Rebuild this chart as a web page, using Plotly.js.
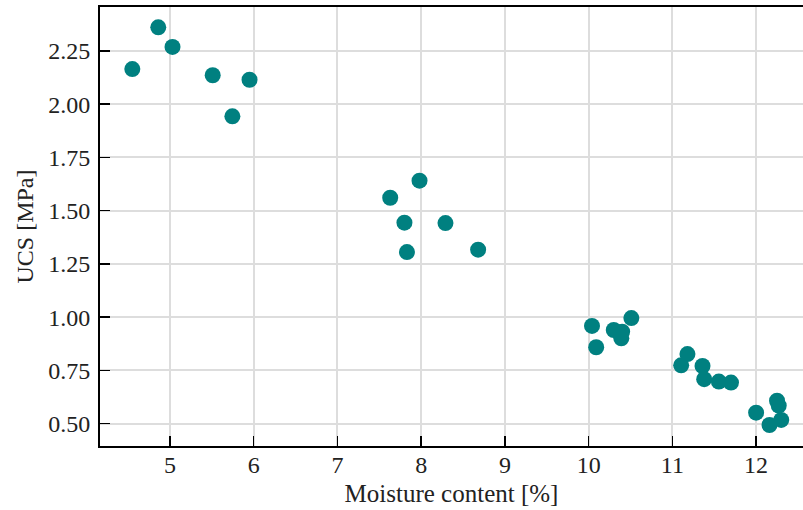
<!DOCTYPE html>
<html>
<head>
<meta charset="utf-8">
<script src="https://cdn.plot.ly/plotly-3.0.1.min.js"></script>
<style>html,body{margin:0;padding:0;background:#fff;}#chart{width:803px;height:510px;}</style>
</head>
<body>
<div id="chart"></div>
<script>
const moisture = [4.55, 4.86, 5.03, 5.51, 5.745, 5.95,
  7.98, 7.63, 7.80, 8.29, 7.83, 8.68,
  10.04, 10.09, 10.30, 10.40, 10.39, 10.51,
  11.18, 11.105, 11.36, 11.38, 11.555, 11.70,
  12.00, 12.25, 12.27, 12.30, 12.16];
const ucs = [2.165, 2.361, 2.269, 2.136, 1.943, 2.115,
  1.641, 1.561, 1.444, 1.442, 1.306, 1.317,
  0.959, 0.859, 0.940, 0.932, 0.901, 0.996,
  0.827, 0.774, 0.771, 0.709, 0.698, 0.693,
  0.552, 0.608, 0.585, 0.518, 0.494];
const xTicks = [5, 6, 7, 8, 9, 10, 11, 12];
const yTicks = [0.5, 0.75, 1.0, 1.25, 1.5, 1.75, 2.0, 2.25];

const fontFam = '"Liberation Serif", "Times New Roman", serif';
const trace = {
  x: moisture, y: ucs, type: 'scatter', mode: 'markers',
  marker: {color: '#008080', size: 16, line: {width: 0}},
  hoverinfo: 'x+y'
};
const axisCommon = {
  showline: true, linecolor: '#000', linewidth: 2,
  ticks: 'inside', ticklen: 10, tickwidth: 1.5, tickcolor: '#000',
  showgrid: true, gridcolor: '#dddddd', gridwidth: 2,
  zeroline: false,
  tickfont: {family: fontFam, size: 24, color: '#222'}
};
const layout = {
  width: 803, height: 510,
  margin: {l: 100, r: 0, t: 7, b: 64},
  paper_bgcolor: '#fff', plot_bgcolor: '#fff',
  showlegend: false,
  xaxis: Object.assign({}, axisCommon, {
    range: [4.164, 12.56], tickvals: xTicks,
    ticktext: xTicks.map(String),
    mirror: true, ticklabelstandoff: -4,
    title: {text: 'Moisture content [%]', font: {family: fontFam, size: 25, color: '#222'}, standoff: 8}
  }),
  yaxis: Object.assign({}, axisCommon, {
    range: [0.3954, 2.4564], tickvals: yTicks,
    ticktext: yTicks.map(v => v.toFixed(2)),
    mirror: false, ticklabelstandoff: 3,
    title: {text: 'UCS [MPa]', font: {family: fontFam, size: 24, color: '#222'}, standoff: 8}
  })
};
Plotly.newPlot('chart', [trace], layout, {displayModeBar: false, staticPlot: true});
</script>
</body>
</html>
